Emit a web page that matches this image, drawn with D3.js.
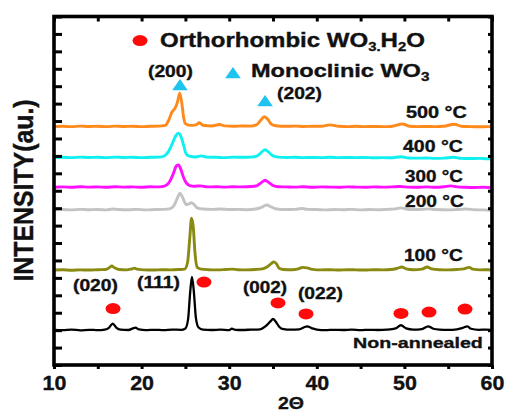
<!DOCTYPE html>
<html><head><meta charset="utf-8">
<script src="https://cdn.jsdelivr.net/npm/d3@7/dist/d3.min.js"></script>
<style>
html,body{margin:0;padding:0;background:#fff;}
svg{display:block;}
text{font-family:"Liberation Sans",Arial,sans-serif;font-weight:bold;fill:#111;stroke:#111;stroke-width:0.35px;}
</style></head>
<body><svg id="c" width="507" height="414"></svg>
<script>
// ---- data ----
const nonAnnealed = [[10,2.02],[11,2.0],[12,2.03],[13,1.99],[14,2.02],[15,2.0],[15.8,2.03],[16.3,2.15],[16.7,2.38],[17.1,2.15],[17.6,2.03],[18.5,2.01],[19.0,2.1],[19.3,2.14],[19.7,2.04],[20.5,2.0],[21.5,2.02],[22.5,2.0],[23.5,2.03],[24.5,2.02],[25.0,2.1],[25.3,2.6],[25.55,4.2],[25.75,5.05],[25.95,4.3],[26.2,2.7],[26.5,2.15],[27,2.03],[28,2.01],[29,2.03],[30,2.0],[30.3,2.08],[30.7,2.02],[31.5,2.01],[32.5,2.03],[33.5,2.05],[34.2,2.25],[34.7,2.5],[35.0,2.64],[35.3,2.5],[35.7,2.2],[36.2,2.06],[37,2.03],[38,2.05],[38.5,2.15],[38.9,2.22],[39.4,2.12],[40,2.03],[41,2.0],[42,2.02],[43,2.01],[44,2.03],[45,2.0],[46,2.02],[47,2.01],[48,2.03],[49,2.1],[49.6,2.28],[50.2,2.1],[51,2.03],[52,2.06],[52.7,2.22],[53.3,2.08],[54,2.03],[55,2.02],[56,2.05],[56.6,2.12],[57.2,2.22],[57.6,2.08],[58.5,2.02],[59.3,2.03],[60,2.01]];
const t100 = [[10,5.45],[11,5.47],[12,5.44],[13,5.46],[14,5.45],[15,5.47],[15.9,5.48],[16.3,5.58],[16.6,5.68],[16.9,5.58],[17.4,5.48],[18.3,5.46],[18.9,5.52],[19.2,5.56],[19.5,5.5],[20.3,5.46],[21.3,5.45],[22.3,5.47],[23.3,5.46],[24.3,5.48],[24.9,5.5],[25.25,5.9],[25.5,7.3],[25.7,8.42],[25.9,7.9],[26.1,6.4],[26.35,5.6],[26.8,5.5],[27.6,5.47],[28.6,5.46],[29.6,5.48],[30.3,5.5],[31,5.47],[32,5.46],[33,5.48],[33.8,5.52],[34.3,5.62],[34.8,5.82],[35.1,5.92],[35.4,5.8],[35.7,5.55],[36.2,5.48],[37.2,5.47],[37.9,5.52],[38.4,5.6],[38.9,5.57],[39.5,5.49],[40.5,5.46],[41.5,5.47],[42.5,5.45],[43.5,5.47],[44.5,5.46],[45.5,5.45],[46.5,5.47],[47.5,5.46],[48.5,5.48],[49.2,5.55],[49.7,5.62],[50.2,5.52],[51,5.47],[52,5.5],[52.6,5.62],[53.1,5.52],[54,5.47],[55,5.46],[56,5.48],[56.8,5.52],[57.4,5.6],[57.8,5.5],[58.7,5.46],[59.5,5.47],[60,5.45]];
const t200 = [[10,8.9],[11,8.92],[12,8.9],[13,8.93],[14,8.91],[15,8.92],[16,8.9],[16.7,8.95],[17.3,8.92],[18.5,8.91],[19.5,8.93],[20.5,8.9],[21.5,8.92],[22.5,8.93],[23.2,8.96],[23.7,9.15],[24.1,9.6],[24.4,9.86],[24.7,9.6],[25.1,9.2],[25.4,9.25],[25.7,9.31],[26.0,9.2],[26.4,9.0],[27,8.95],[28,8.93],[29,8.95],[30,8.92],[31,8.93],[32,8.91],[33,8.95],[33.7,9.05],[34.3,9.18],[34.8,9.07],[35.4,8.95],[36.5,8.92],[37.5,8.93],[38.3,8.98],[39,8.93],[40,8.92],[41,8.9],[42,8.92],[43,8.91],[44,8.93],[45,8.9],[46,8.92],[47,8.91],[48,8.93],[49,8.96],[49.6,9.02],[50.2,8.95],[51,8.92],[52,8.93],[52.8,8.96],[53.5,8.92],[55,8.9],[56,8.92],[57,8.95],[58,8.91],[59,8.9],[60,8.88]];
const t300 = [[10,10.2],[11,10.22],[12,10.2],[13,10.23],[14,10.21],[15,10.22],[16,10.2],[17,10.23],[18,10.21],[19,10.22],[20,10.2],[21,10.23],[22,10.22],[22.6,10.26],[23.1,10.45],[23.6,10.95],[24.0,11.45],[24.2,11.48],[24.5,11.2],[24.8,10.75],[25.1,10.45],[25.5,10.3],[26,10.26],[26.7,10.28],[27.5,10.22],[28.5,10.23],[29.5,10.21],[30.5,10.23],[31.5,10.22],[32.5,10.24],[33.2,10.3],[33.7,10.48],[34.1,10.6],[34.5,10.48],[35,10.3],[35.6,10.23],[36.5,10.22],[37.5,10.21],[38.5,10.23],[39.5,10.2],[40.5,10.22],[41.5,10.21],[42.5,10.2],[43.5,10.22],[44.5,10.21],[45.5,10.2],[46.5,10.22],[47.5,10.21],[48.5,10.22],[49.5,10.24],[50.5,10.21],[51.5,10.2],[52.5,10.22],[53.5,10.2],[54.5,10.23],[55.3,10.28],[56,10.22],[57,10.2],[58,10.19],[59,10.2],[60,10.18]];
const t400 = [[10,11.9],[11,11.92],[12,11.9],[13,11.93],[14,11.91],[15,11.92],[16,11.9],[17,11.93],[18,11.91],[19,11.92],[20,11.9],[21,11.92],[22,11.93],[22.5,11.97],[23.0,12.2],[23.5,12.7],[23.9,13.15],[24.2,13.3],[24.5,13.1],[24.8,12.6],[25.1,12.1],[25.5,11.98],[26.2,11.94],[26.8,12.0],[27.5,11.93],[28.5,11.92],[29.5,11.9],[30.5,11.93],[31.5,11.92],[32.5,11.93],[33.2,12.0],[33.7,12.22],[34.1,12.35],[34.5,12.22],[35,12.0],[35.6,11.93],[36.5,11.91],[37.5,11.92],[38.5,11.9],[39.5,11.91],[40.5,11.9],[41.5,11.92],[42.5,11.9],[43.5,11.91],[44.5,11.9],[45.5,11.91],[46.5,11.89],[47.5,11.9],[48.5,11.89],[49.6,11.95],[50.5,11.88],[51.5,11.87],[52.5,11.88],[53.5,11.86],[54.5,11.87],[55.6,11.92],[56.5,11.86],[57.5,11.85],[58.5,11.86],[59.5,11.84],[60,11.84]];
const t500 = [[10,13.68],[11,13.7],[12,13.68],[13,13.71],[14,13.69],[15,13.7],[16,13.68],[17,13.71],[18,13.69],[19,13.7],[20,13.68],[21,13.7],[22,13.71],[22.7,13.75],[23.1,14.05],[23.5,14.55],[23.8,14.72],[24.1,15.1],[24.35,15.6],[24.6,15.0],[24.8,14.2],[25.0,13.85],[25.5,13.75],[26.2,13.78],[26.6,13.9],[27.0,13.76],[28,13.72],[28.9,13.8],[29.5,13.72],[30.5,13.7],[31.5,13.72],[32.5,13.71],[33.1,13.78],[33.6,14.05],[34.0,14.25],[34.4,14.1],[34.8,13.82],[35.3,13.73],[36.5,13.7],[37.5,13.71],[38.5,13.69],[39.5,13.7],[40.5,13.7],[41.5,13.78],[42.5,13.7],[43.5,13.68],[44.5,13.7],[45.5,13.68],[46.5,13.69],[47.5,13.68],[48.5,13.69],[49.8,13.83],[50.6,13.7],[51.5,13.68],[52.5,13.69],[53.5,13.68],[54.5,13.7],[55.7,13.82],[56.5,13.7],[57.5,13.68],[58.5,13.67],[59.5,13.68],[60,13.67]];

const seriesNames = ["Non-annealed","100 °C","200 °C","300 °C","400 °C","500 °C"];
const seriesData = [nonAnnealed,t100,t200,t300,t400,t500];
const seriesColors = ["#000000","#8a8a12","#c3c3c3","#ff10ff","#10f0f0","#ff8a1c"];
// label anchor [2θ, intensity] and fitted width (px)
const seriesLabelPos = [[44.13,0.96],[49.95,5.99],[50.07,9.05],[50.07,10.53],[49.84,12.21],[50.18,14.2]];
const seriesLabelW = [130,59,59,58,60,61];

// orthorhombic markers (red dots)
const orthoMarks = [[16.74,3.24],[27.12,4.76],[35.57,3.56],[38.77,2.93],[49.61,2.96],[52.81,3.04],[56.92,3.21]];
// monoclinic markers (blue triangles)
const monoMarks = [[24.38,16.04],[34.09,15.12]];
// hkl labels
const hklText = ["(200)","(202)","(020)","(111)","(002)","(022)"];
const hklPos = [[20.73,16.55],[35.46,15.27],[12.17,4.22],[19.47,4.40],[31.58,4.16],[37.85,3.77]];
const hklW = [45,45,45,43,44,45];

// legend
const legendMarkPos = [[19.82,18.62],[30.43,16.73]];
const legendTextPos = [[22.1,18.25],[32.49,16.51]];
const legendTextW = [265,179];

const xTicks = [10,15,20,25,30,35,40,45,50,55,60];
const xTickLabels = [10,20,30,40,50,60];
const yTicks = d3.range(0,21,1);

// ---- chart ----
const svg = d3.select("#c");
const x = d3.scaleLinear().domain([10,60]).range([54,492]);
const y = d3.scaleLinear().domain([0,20]).range([365,16.5]);

function fitW(sel, w){
  sel.each(function(){
    const bb = this.getBBox();
    const s = w / bb.width;
    const x0 = +this.getAttribute("x");
    const y0 = +this.getAttribute("y");
    this.setAttribute("transform", `translate(${x0},${y0}) scale(${s},1) translate(${-x0},${-y0})`);
  });
}

const line = d3.line().x(d=>x(d[0])).y(d=>y(d[1])).curve(d3.curveMonotoneX);

svg.append("g").selectAll("path").data(seriesData).join("path")
  .attr("d", line).attr("fill","none")
  .attr("stroke",(d,i)=>seriesColors[i]).attr("stroke-width",(d,i)=>i===0?2.3:2.9)
  .attr("stroke-linejoin","round");

// axes
const axB = svg.append("g").attr("transform",`translate(0,${y(0)})`)
  .call(d3.axisBottom(x).tickValues(xTicks).tickSize(4).tickFormat(d=>xTickLabels.includes(d)?d:""));
const axT = svg.append("g").attr("transform",`translate(0,${y(20)})`)
  .call(d3.axisBottom(x).tickValues(xTicks).tickSize(5).tickFormat(""));
const axL = svg.append("g").attr("transform",`translate(${x(10)},0)`)
  .call(d3.axisRight(y).tickValues(yTicks).tickSize(8).tickFormat(""));
const axR = svg.append("g").attr("transform",`translate(${x(60)},0)`)
  .call(d3.axisLeft(y).tickValues(yTicks).tickSize(4).tickFormat(""));
[axB,axT,axL,axR].forEach(a=>{
  a.select(".domain").remove();
  a.selectAll(".tick line").attr("stroke","#000").attr("stroke-width",3);
});
axB.selectAll(".tick text").attr("font-size",19.5).attr("dy",0).attr("y",25)
  .style("font-family","Liberation Sans, Arial, sans-serif").style("font-weight","bold")
  .attr("fill","#111").attr("stroke","#111").attr("stroke-width",0.45)
  .attr("transform","scale(1.1,1)");

// frame
svg.append("rect").attr("x",x(10)).attr("y",y(20)).attr("width",x(60)-x(10)).attr("height",y(0)-y(20))
  .attr("fill","none").attr("stroke","#000").attr("stroke-width",3.6);

// series labels
svg.append("g").selectAll("text").data(seriesNames).join("text")
  .attr("x",(d,i)=>x(seriesLabelPos[i][0])).attr("y",(d,i)=>y(seriesLabelPos[i][1]))
  .attr("font-size",(d,i)=>i===0?15.5:16.5).text(d=>d)
  .each(function(d,i){ fitW(d3.select(this), seriesLabelW[i]); });

// hkl labels
svg.append("g").selectAll("text").data(hklText).join("text")
  .attr("x",(d,i)=>x(hklPos[i][0])).attr("y",(d,i)=>y(hklPos[i][1]))
  .attr("font-size",16).text(d=>d)
  .each(function(d,i){ fitW(d3.select(this), hklW[i]); });

// markers
svg.append("g").selectAll("ellipse").data(orthoMarks.concat([legendMarkPos[0]])).join("ellipse")
  .attr("cx",d=>x(d[0])).attr("cy",d=>y(d[1])).attr("rx",7.5).attr("ry",5.5).attr("fill","#ff0a0a");
const tri = d3.symbol().type(d3.symbolTriangle).size(80);
svg.append("g").selectAll("path").data(monoMarks.concat([legendMarkPos[1]])).join("path")
  .attr("d",tri).attr("transform",d=>`translate(${x(d[0])},${y(d[1])+1}) scale(1.15,0.95)`)
  .attr("fill","#1ec4ef");

// legend texts
const lt1 = svg.append("text").attr("x",x(legendTextPos[0][0])).attr("y",y(legendTextPos[0][1])).attr("font-size",19.5);
lt1.append("tspan").text("Orthorhombic WO");
lt1.append("tspan").text("3.").attr("font-size",12).attr("dy",4);
lt1.append("tspan").text("H").attr("dy",-4);
lt1.append("tspan").text("2").attr("font-size",12).attr("dy",4);
lt1.append("tspan").text("O").attr("dy",-4);
fitW(lt1, legendTextW[0]);
const lt2 = svg.append("text").attr("x",x(legendTextPos[1][0])).attr("y",y(legendTextPos[1][1])).attr("font-size",18.5);
lt2.append("tspan").text("Monoclinic WO");
lt2.append("tspan").text("3").attr("font-size",12).attr("dy",4);
fitW(lt2, legendTextW[1]);

// axis titles
svg.append("text").attr("x",291).attr("y",409).attr("text-anchor","middle").attr("font-size",17)
  .attr("transform","translate(291,0) scale(1.15,1) translate(-291,0)").text("2Θ");
svg.append("text").attr("text-anchor","middle").attr("font-size",23)
  .attr("transform","translate(33,190.5) rotate(-90) scale(1.08,1.2)").text("INTENSITY(au.)");
</script></body></html>
